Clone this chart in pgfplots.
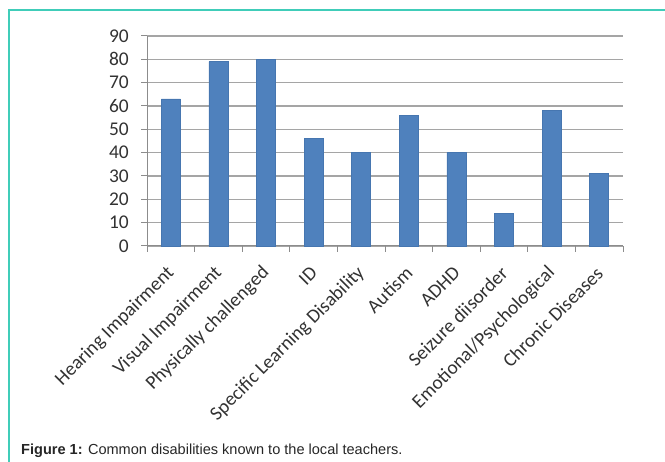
\documentclass[border=0pt]{standalone}
\usepackage{fontspec}
\setmainfont{Carlito}
\newfontfamily\capfont{Liberation Sans}
\usepackage{pgfplots}
\pgfplotsset{compat=1.18}
\definecolor{barblue}{RGB}{79,129,189}
\definecolor{baredge}{RGB}{70,118,176}
\definecolor{frameteal}{RGB}{64,205,185}
\definecolor{gridgray}{RGB}{165,165,165}
\definecolor{axisgray}{RGB}{140,140,140}
\definecolor{labelgray}{RGB}{50,50,50}
\begin{document}
\begin{tikzpicture}[x=1bp,y=1bp]
\path[use as bounding box] (0,0) rectangle (665,462);
\draw[frameteal, line width=1.5bp] (9,-5) -- (9,452) -- (670,452);
\begin{axis}[
  at={(147bp,216bp)}, anchor=south west,
  width=476bp, height=210bp, scale only axis,
  xmin=-0.5, xmax=9.5, ymin=0, ymax=90,
  ytick={0,10,...,90},
  xtick={0,...,9},
  minor xtick={-0.5,0.5,...,9.5},
  xticklabels={Hearing Impairment,Visual Impairment,Physically challenged,ID,Specific Learning Disability,Autism,ADHD,Seizure diisorder,Emotional/Psychological,Chronic Diseases},
  axis x line*=bottom, axis y line*=left,
  axis line style={axisgray, line width=1bp},
  tick align=outside,
  major x tick style={draw=none},
  minor x tick style={axisgray, line width=1bp},
  major y tick style={axisgray, line width=1bp},
  major tick length=6bp, minor tick length=6bp,
  ymajorgrids, grid style={gridgray, line width=1.3bp},
  /pgf/number format/assume math mode=true,
  tick label style={text=labelgray, font=\fontsize{19.5}{22}\selectfont},
  yticklabel style={anchor=east, inner sep=0pt, xshift=-12bp},
  xticklabel style={xshift=0.5bp, yshift=-18bp, rotate=45, anchor=east, inner sep=0pt},
  ybar, bar width=19bp,
  clip=false,
]
\addplot[fill=barblue, draw=baredge, line width=0.6bp] coordinates {(0,63) (1,79) (2,80) (3,46) (4,40) (5,56) (6,40) (7,14) (8,58) (9,31)};
\end{axis}
\node[anchor=base west, inner sep=0pt, text=black!85] at (21,7) {\capfont\fontsize{14.6}{17}\selectfont\textbf{Figure 1:} Common disabilities known to the local teachers.};
\end{tikzpicture}
\end{document}
